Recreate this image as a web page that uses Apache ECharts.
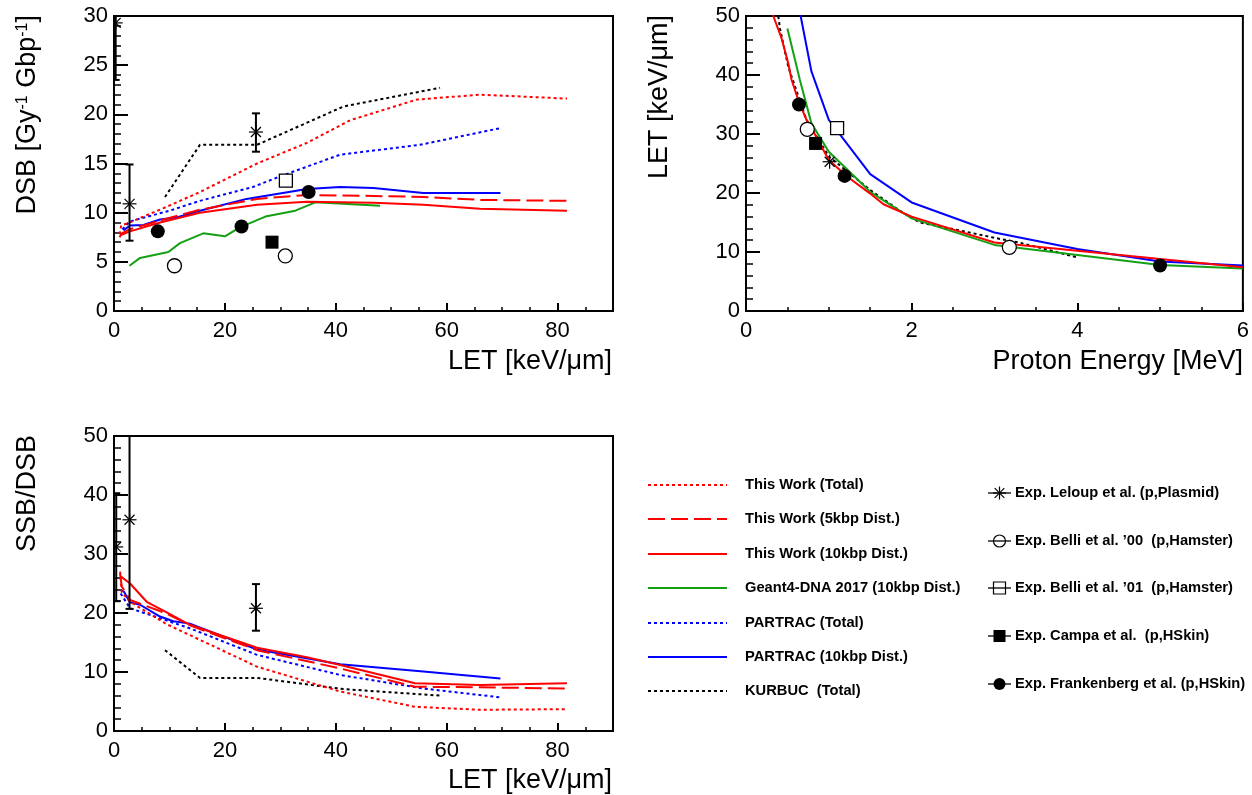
<!DOCTYPE html>
<html><head><meta charset="utf-8">
<script src="https://cdn.jsdelivr.net/npm/echarts@6/dist/echarts.min.js"></script>
<style>html,body{margin:0;padding:0;background:#fff}#c{width:1252px;height:795px}</style>
</head><body><div id="c"></div>
<script>
// ---------- DATA ----------
// Panel A: DSB yield vs LET
const dsbThisWorkTotal = [[1.0,7.8],[1.3,8.7],[2.8,9.0],[9.5,10.6],[15.5,12.1],[25.8,15.0],[34.8,17.1],[42.6,19.4],[54.6,21.5],[66,22.0],[81.7,21.6]];
const dsbThisWork5kbp = [[1.0,7.5],[1.4,7.9],[2.8,8.3],[8.3,9.2],[15.5,10.3],[25.8,11.4],[34.8,11.8],[46.8,11.7],[55.8,11.6],[66,11.3],[81.7,11.2]];
const dsbThisWork10kbp = [[1.1,7.7],[2.9,8.1],[8.3,9.0],[15.5,10.0],[25.8,10.8],[34.8,11.1],[46.8,11.0],[55.8,10.8],[66,10.4],[81.7,10.2]];
const dsbGeant4 = [[2.8,4.6],[4.7,5.4],[9.8,6.0],[11.9,6.9],[16.1,7.9],[20,7.6],[22.7,8.5],[27.3,9.6],[32.7,10.2],[36.3,11.05],[48,10.7]];
const dsbPartracTotal = [[1.5,8.3],[2.8,9.1],[10,10.2],[15.5,11.2],[25,12.6],[30,13.7],[40.8,15.9],[55.2,16.9],[69.7,18.6]];
const dsbPartrac10kbp = [[1.7,8.2],[2.9,8.7],[5.3,8.75],[8.3,9.3],[11.3,9.5],[15.5,10.2],[23.9,11.4],[34.8,12.4],[40.8,12.6],[46.8,12.5],[55.8,12.0],[69.7,12.0]];
const dsbKurbuc = [[9.2,11.6],[15.5,16.9],[25.8,16.9],[41.4,20.8],[58.8,22.7]];
const dsbLeloup = [[0.3,29.3,23.5,35],[2.8,10.9,7.15,14.9],[25.6,18.2,16.2,20.1]]; // [LET, value, low, high]
const dsbBelli00 = [[10.9,4.6],[30.9,5.6]];
const dsbBelli01 = [[31.0,13.25]];
const dsbCampa = [[28.5,7.0]];
const dsbFrankenberg = [[7.9,8.1],[23.0,8.6],[35.1,12.1]];

// Panel B: LET vs proton energy
const letThisWork = [[0.30,52.5],[0.33,50],[0.43,46.2],[0.51,42],[0.55,39.2],[0.63,35.8],[0.73,32.4],[0.79,31],[1.0,25.6],[1.22,22.8],[1.5,19.9],[1.66,18.1],[2.0,16],[3.0,11.6],[4.0,10.2],[5.0,8.8],[6.0,7.4]];
const letGeant4 = [[0.5,47.9],[0.65,39.2],[0.79,31.8],[1.0,27],[1.5,20.2],[2.0,15.7],[3.0,11.2],[4.0,9.5],[5.0,7.8],[6.0,7.2]];
const letPartrac = [[0.6,54],[0.66,50],[0.79,40.6],[1.0,32.4],[1.5,23.2],[2.0,18.4],[3.0,13.3],[4.0,10.5],[5.0,8.4],[6.0,7.7]];
const letKurbuc = [[0.37,53],[0.39,50],[0.41,47.9],[0.51,41.4],[0.73,32.4],[1.0,26.2],[1.5,20.5],[1.9,16.6],[2.1,15.0],[2.6,13.6],[3.0,12.4],[3.3,11.6],[4.0,9.1]];
const letLeloup = [[1.01,25.3,25.3,25.3]];
const letBelli00 = [[0.74,30.8],[3.18,10.8]];
const letBelli01 = [[1.1,31]];
const letCampa = [[0.84,28.4]];
const letFrankenberg = [[0.64,35],[1.19,22.9],[5.0,7.7]];

// Panel C: SSB/DSB ratio vs LET
const ssbThisWorkTotal = [[1.1,27.0],[1.4,23.5],[2.9,21.9],[9.5,18.1],[25.8,10.9],[40.8,6.7],[54.3,4.1],[66,3.6],[81.7,3.7]];
const ssbThisWork5kbp = [[1.1,26.6],[1.4,24.5],[2.9,22.2],[9.5,19.9],[13.7,17.9],[25.8,13.7],[40.8,10.6],[54.3,7.5],[66,7.4],[81.7,7.2]];
const ssbThisWork10kbp = [[1.2,26.2],[2.9,25.0],[5.9,21.9],[9.5,20.1],[13.7,18.0],[25.8,14.1],[34.8,12.5],[40.8,11.2],[54.3,8.1],[66,7.8],[81.7,8.1]];
const ssbPartracTotal = [[1.2,23.3],[2.9,20.8],[13.7,17.4],[25.8,12.9],[40.8,9.5],[55.8,7.2],[69.7,5.7]];
const ssbPartrac10kbp = [[1.2,23.9],[1.8,23.6],[2.9,21.8],[4.7,21.4],[8.3,19.4],[10.7,18.6],[13.7,18.2],[25.8,13.8],[40.8,11.3],[55.8,10.1],[69.7,8.9]];
const ssbKurbuc = [[9.2,13.7],[15.5,9.0],[25.8,9.0],[41.4,7.1],[58.8,6.0]];
const ssbLeloup = [[0.4,31.2,22.0,40.3],[2.8,35.8,20.7,55],[25.6,20.8,17.0,24.9]];

const letTicks = [0,20,40,60,80];
const modelNames = ['This Work (Total)','This Work (5kbp Dist.)','This Work (10kbp Dist.)','Geant4-DNA 2017 (10kbp Dist.)','PARTRAC (Total)','PARTRAC (10kbp Dist.)','KURBUC  (Total)'];
const expNames = ['Exp. Leloup et al. (p,Plasmid)','Exp. Belli et al. \u201900  (p,Hamster)','Exp. Belli et al. \u201901  (p,Hamster)','Exp. Campa et al.  (p,HSkin)','Exp. Frankenberg et al. (p,HSkin)'];

// ---------- STYLE ----------
const FONT = '"Liberation Sans", Arial, Helvetica, sans-serif';
const RED='#ff0000', BLUE='#0000ff', GREEN='#13a013', BLACK='#000000';
const DOT=[3,3], LDASH=[17,6];
const modelStyles = [[RED,DOT],[RED,LDASH],[RED,'solid'],[GREEN,'solid'],[BLUE,DOT],[BLUE,'solid'],[BLACK,DOT]];

const chart = echarts.init(document.getElementById('c'), null, {renderer:'canvas'});

function xMajor(grid, min, max, interval, minorSplit){
  return {type:'value', gridIndex:grid, position:'bottom', min, max, interval,
    axisLine:{show:true, onZero:false, lineStyle:{color:'#000', width:2}},
    axisTick:{show:true, inside:true, length:8, lineStyle:{color:'#000', width:2}},
    minorTick:{show:!!minorSplit, splitNumber:minorSplit||5, length:4, lineStyle:{color:'#000', width:1.5}},
    splitLine:{show:false}, minorSplitLine:{show:false},
    axisLabel:{show:true, color:'#000', fontSize:22, fontFamily:FONT, margin:9, showMinLabel:true, showMaxLabel:true,
      formatter:(v)=> (max===90 ? (letTicks.indexOf(v)>=0 ? String(v) : '') : String(v))}};
}
function xMinor(grid){
  return {type:'value', gridIndex:grid, position:'bottom', min:0, max:90, interval:5,
    axisLine:{show:false}, axisLabel:{show:false}, splitLine:{show:false},
    axisTick:{show:true, inside:true, length:4, lineStyle:{color:'#000', width:1.5}}};
}
function yAxis(grid, max, interval){
  return {type:'value', gridIndex:grid, min:0, max, interval,
    axisLine:{show:true, onZero:false, lineStyle:{color:'#000', width:2}},
    axisTick:{show:true, inside:true, length:14, lineStyle:{color:'#000', width:2}},
    minorTick:{show:true, splitNumber:5, length:7, lineStyle:{color:'#000', width:1.5}},
    splitLine:{show:false}, minorSplitLine:{show:false},
    axisLabel:{show:true, color:'#000', fontSize:22, fontFamily:FONT, margin:6, showMinLabel:true, showMaxLabel:true}};
}

function lineS(name, data, xi, yi, idx){
  const st = modelStyles[idx];
  return {type:'line', name, data, xAxisIndex:xi, yAxisIndex:yi, symbol:'none', smooth:false, clip:true, silent:true,
    z:3, lineStyle:{color:st[0], width:2, type:st[1]}};
}
function scatterS(name, data, xi, yi, sym, filled, size){
  return {type:'scatter', name, data, xAxisIndex:xi, yAxisIndex:yi, symbol:sym, symbolSize:size, silent:true, z:5,
    itemStyle: filled ? {color:'#000', opacity:1} : {color:'#fff', borderColor:'#000', borderWidth:1.3, opacity:1}};
}
function leloupS(data, xi, yi){
  return {type:'custom', name:expNames[0], data, xAxisIndex:xi, yAxisIndex:yi, clip:true, silent:true, z:6,
    encode:{x:0, y:1},
    renderItem:function(params, api){
      const c = api.coord([api.value(0), api.value(1)]);
      const lo = api.coord([api.value(0), api.value(2)]);
      const hi = api.coord([api.value(0), api.value(3)]);
      const ch = [];
      const ls = {stroke:'#000', lineWidth:2};
      if (Math.abs(lo[1]-hi[1]) > 1) {
        ch.push({type:'line', shape:{x1:c[0], y1:lo[1], x2:c[0], y2:hi[1]}, style:ls});
        ch.push({type:'line', shape:{x1:c[0]-4, y1:lo[1], x2:c[0]+4, y2:lo[1]}, style:ls});
        ch.push({type:'line', shape:{x1:c[0]-4, y1:hi[1], x2:c[0]+4, y2:hi[1]}, style:ls});
      }
      const r = 7, d = 5;
      const as = {stroke:'#000', lineWidth:1.2};
      ch.push({type:'line', shape:{x1:c[0]-r, y1:c[1], x2:c[0]+r, y2:c[1]}, style:as});
      ch.push({type:'line', shape:{x1:c[0], y1:c[1]-r, x2:c[0], y2:c[1]+r}, style:as});
      ch.push({type:'line', shape:{x1:c[0]-d, y1:c[1]-d, x2:c[0]+d, y2:c[1]+d}, style:as});
      ch.push({type:'line', shape:{x1:c[0]-d, y1:c[1]+d, x2:c[0]+d, y2:c[1]-d}, style:as});
      return {type:'group', children:ch};
    }};
}

const series = [
  // Panel A
  lineS(modelNames[6], dsbKurbuc, 0, 0, 6),
  lineS(modelNames[3], dsbGeant4, 0, 0, 3),
  lineS(modelNames[4], dsbPartracTotal, 0, 0, 4),
  lineS(modelNames[5], dsbPartrac10kbp, 0, 0, 5),
  lineS(modelNames[0], dsbThisWorkTotal, 0, 0, 0),
  lineS(modelNames[1], dsbThisWork5kbp, 0, 0, 1),
  lineS(modelNames[2], dsbThisWork10kbp, 0, 0, 2),
  leloupS(dsbLeloup, 0, 0),
  scatterS(expNames[1], dsbBelli00, 0, 0, 'circle', false, 14),
  scatterS(expNames[2], dsbBelli01, 0, 0, 'rect', false, 13),
  scatterS(expNames[3], dsbCampa, 0, 0, 'rect', true, 13),
  scatterS(expNames[4], dsbFrankenberg, 0, 0, 'circle', true, 14),
  // Panel B
  lineS(modelNames[6], letKurbuc, 2, 1, 6),
  lineS(modelNames[5], letPartrac, 2, 1, 5),
  lineS(modelNames[3], letGeant4, 2, 1, 3),
  lineS(modelNames[2], letThisWork, 2, 1, 2),
  leloupS(letLeloup, 2, 1),
  scatterS(expNames[1], letBelli00, 2, 1, 'circle', false, 14),
  scatterS(expNames[2], letBelli01, 2, 1, 'rect', false, 13),
  scatterS(expNames[3], letCampa, 2, 1, 'rect', true, 13),
  scatterS(expNames[4], letFrankenberg, 2, 1, 'circle', true, 14),
  // Panel C
  lineS(modelNames[6], ssbKurbuc, 3, 2, 6),
  lineS(modelNames[4], ssbPartracTotal, 3, 2, 4),
  lineS(modelNames[5], ssbPartrac10kbp, 3, 2, 5),
  lineS(modelNames[0], ssbThisWorkTotal, 3, 2, 0),
  lineS(modelNames[1], ssbThisWork5kbp, 3, 2, 1),
  lineS(modelNames[2], ssbThisWork10kbp, 3, 2, 2),
  leloupS(ssbLeloup, 3, 2)
];

// ---------- Graphic: axis titles + legend ----------
const TF = 'normal 27px ' + FONT;
const graphics = [];
function vTitle(x, yTop, text, rich){
  graphics.push({type:'text', x, y:yTop, rotation:Math.PI/2, silent:true,
    style: rich ? {text, rich, align:'right', verticalAlign:'middle', fill:'#000'}
                : {text, font:TF, align:'right', verticalAlign:'middle', fill:'#000'}});
}
function hTitle(xRight, y, text){
  graphics.push({type:'text', x:xRight, y, silent:true, style:{text, font:TF, align:'right', verticalAlign:'middle', fill:'#000'}});
}
const supRich = {a:{fontSize:27, fontFamily:FONT, color:'#000', verticalAlign:'bottom'}, s:{fontSize:16, fontFamily:FONT, color:'#000', verticalAlign:'top'}};
vTitle(28, 15, '{a|DSB [Gy}{s|-1}{a| Gbp}{s|-1}{a|]}', supRich);
hTitle(612, 362, 'LET [keV/\u03bcm]');
vTitle(660, 15, 'LET [keV/\u03bcm]');
hTitle(1243, 362, 'Proton Energy [MeV]');
vTitle(28, 435, 'SSB/DSB');
hTitle(612, 781, 'LET [keV/\u03bcm]');

const LF = 'bold 14.7px ' + FONT;
const legRowsL = [485, 519, 554, 588, 623, 657, 691];
modelNames.forEach((n, i) => {
  const st = modelStyles[i];
  graphics.push({type:'line', silent:true, shape:{x1:648, y1:legRowsL[i], x2:727, y2:legRowsL[i]},
    style:{stroke:st[0], lineWidth:2, lineDash: st[1]==='solid' ? null : st[1]}});
  graphics.push({type:'text', x:745, y:legRowsL[i], silent:true, style:{text:n, font:LF, fill:'#000', align:'left', verticalAlign:'middle'}});
});
const legRowsR = [493, 541, 588, 636, 684];
expNames.forEach((n, i) => {
  const y = legRowsR[i], cx = 999.5;
  graphics.push({type:'line', silent:true, shape:{x1:988, y1:y, x2:1011, y2:y}, style:{stroke:'#000', lineWidth:1.3}});
  if (i===0){
    [[-6.5,0,6.5,0],[0,-6.5,0,6.5],[-4.8,-4.8,4.8,4.8],[-4.8,4.8,4.8,-4.8]].forEach(s=>{
      graphics.push({type:'line', silent:true, shape:{x1:cx+s[0], y1:y+s[1], x2:cx+s[2], y2:y+s[3]}, style:{stroke:'#000', lineWidth:1.2}});
    });
  } else if (i===1){
    graphics.push({type:'circle', silent:true, z:10, shape:{cx, cy:y, r:6}, style:{fill:'none', stroke:'#000', lineWidth:1.2}});
  } else if (i===2){
    graphics.push({type:'rect', silent:true, z:10, shape:{x:cx-6, y:y-6, width:12, height:12}, style:{fill:'none', stroke:'#000', lineWidth:1.2}});
  } else if (i===3){
    graphics.push({type:'rect', silent:true, z:10, shape:{x:cx-6, y:y-6, width:12, height:12}, style:{fill:'#000'}});
  } else {
    graphics.push({type:'circle', silent:true, z:10, shape:{cx, cy:y, r:6}, style:{fill:'#000'}});
  }
  graphics.push({type:'text', x:1015, y, silent:true, style:{text:n, font:LF, fill:'#000', align:'left', verticalAlign:'middle'}});
});

chart.setOption({
  animation:false,
  backgroundColor:'#fff',
  textStyle:{fontFamily:FONT},
  grid:[
    {left:114, top:16, width:499, height:295, show:true, borderColor:'#000', borderWidth:2, backgroundColor:'transparent'},
    {left:746, top:16, width:497, height:295, show:true, borderColor:'#000', borderWidth:2, backgroundColor:'transparent'},
    {left:114, top:436, width:499, height:295, show:true, borderColor:'#000', borderWidth:2, backgroundColor:'transparent'}
  ],
  xAxis:[ xMajor(0,0,90,20,0), xMinor(0), xMajor(1,0,6,2,4), xMajor(2,0,90,20,0), xMinor(2) ],
  yAxis:[ yAxis(0,30,5), yAxis(1,50,10), yAxis(2,50,10) ],
  series,
  graphic: graphics
});
</script></body></html>
